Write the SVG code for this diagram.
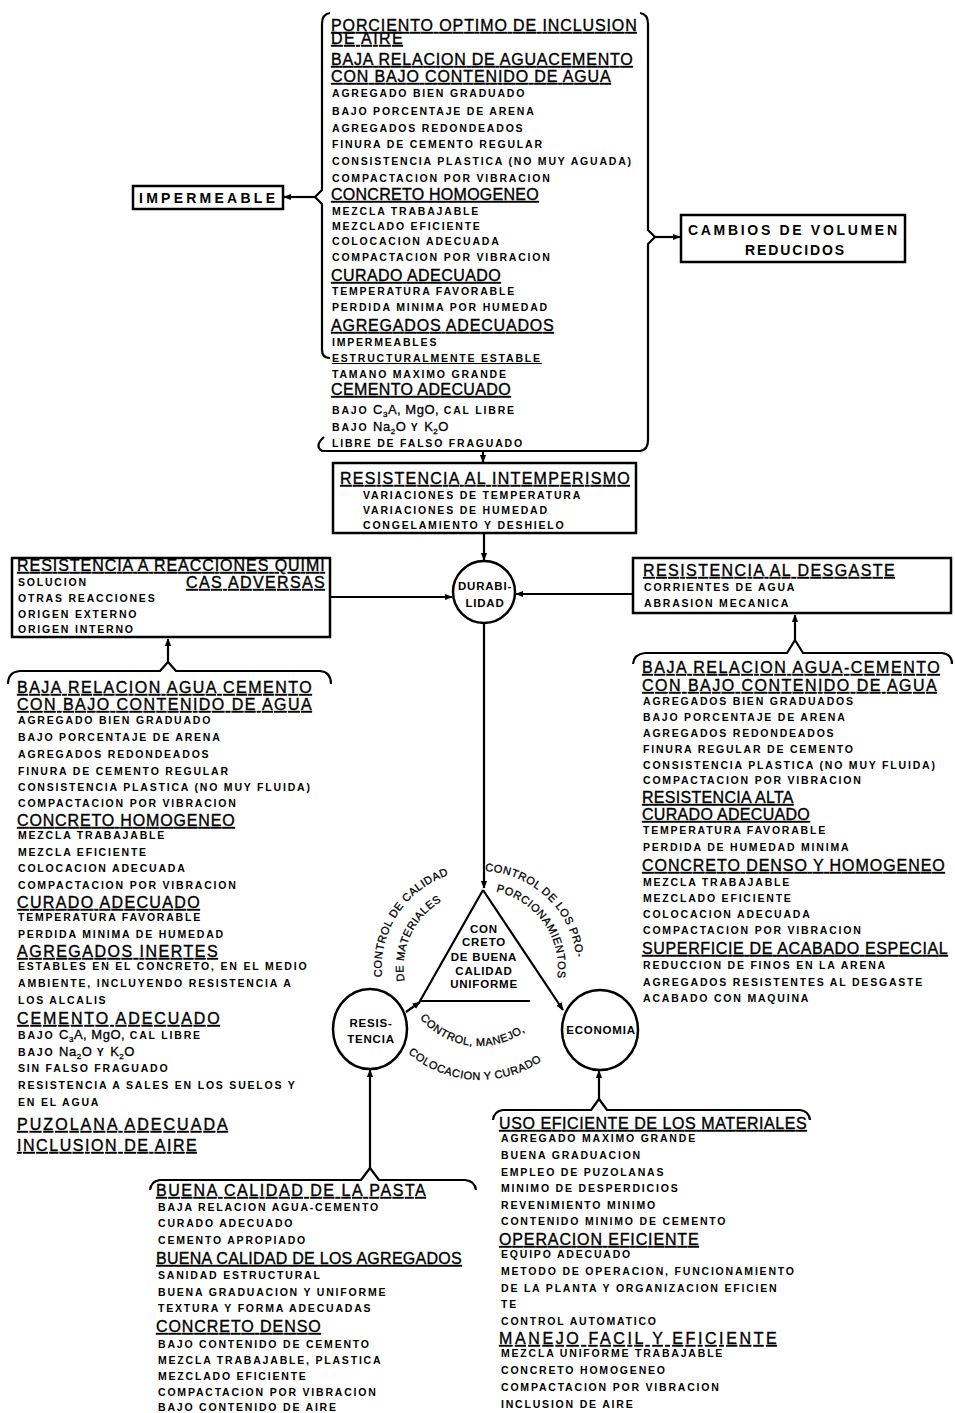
<svg xmlns="http://www.w3.org/2000/svg" width="955" height="1413" viewBox="0 0 955 1413">
<style>
text{fill:#000;font-family:"Liberation Sans",Arial,sans-serif}
.s{font-size:10.5px;font-weight:bold;letter-spacing:1.8px}
.l{font-size:16px;letter-spacing:0.3px;text-decoration:underline;stroke:#000;stroke-width:0.35}
.m{font-size:13px;font-weight:normal;letter-spacing:0.5px;stroke:#000;stroke-width:0.3}
.b{font-size:14px;font-weight:bold;letter-spacing:1px}
.c{font-size:11.5px;font-weight:bold;letter-spacing:0.8px;text-anchor:middle}
.a{font-size:11px;letter-spacing:0.5px;stroke:#000;stroke-width:0.3}
.box{fill:#fff;stroke:#000;stroke-width:2.5}
.ln{fill:none;stroke:#000;stroke-width:2.2;stroke-linejoin:round}
</style>
<defs>
<marker id="ah" viewBox="0 0 10 10" refX="9" refY="5" markerWidth="8" markerHeight="8" markerUnits="userSpaceOnUse" orient="auto"><path d="M0,1 L10,5 L0,9 z"/></marker>
<path id="pL1" d="M 382 977 A 98 98 0 0 1 476.6 870.1"/>
<path id="pL2" d="M 404.7 981 A 77 77 0 0 1 466 892"/>
<path id="pR1" d="M 485 871 A 97 97 0 0 1 577 970"/>
<path id="pR2" d="M 496.2 891.7 A 78 78 0 0 1 553.3 994.7"/>
<path id="pB1" d="M 420 1018 A 77 77 0 0 0 547 1006"/>
<path id="pB2" d="M 408 1053 A 110 110 0 0 0 552 1053"/>
</defs>

<g id="connectors">
<line class="ln" x1="316" y1="197" x2="284" y2="197" marker-end="url(#ah)"/>
<line class="ln" x1="655" y1="237" x2="680" y2="237" marker-end="url(#ah)"/>
<line class="ln" x1="483" y1="452" x2="483" y2="462" marker-end="url(#ah)"/>
<line class="ln" x1="484" y1="533" x2="484" y2="560" marker-end="url(#ah)"/>
<line class="ln" x1="330" y1="597" x2="452" y2="597" marker-end="url(#ah)"/>
<line class="ln" x1="633" y1="594" x2="516" y2="594" marker-end="url(#ah)"/>
<line class="ln" x1="168" y1="662" x2="168" y2="639" marker-end="url(#ah)"/>
<line class="ln" x1="795" y1="640" x2="795" y2="615" marker-end="url(#ah)"/>
<line class="ln" x1="484" y1="623" x2="484" y2="888" marker-end="url(#ah)"/>
<line class="ln" x1="483" y1="890" x2="563" y2="1010" marker-end="url(#ah)"/>
<line class="ln" x1="406" y1="1012" x2="420" y2="1002" marker-end="url(#ah)"/>
<line class="ln" x1="370" y1="1168" x2="370" y2="1070" marker-end="url(#ah)"/>
<line class="ln" x1="599" y1="1099" x2="599" y2="1071" marker-end="url(#ah)"/>
</g>

<g id="bloque-superior">
<path class="ln" d="M 330 13 Q 322 14 322 24 L 322 190 L 315 197 L 322 204 L 322 350 Q 322 358 330 358"/>
<path class="ln" d="M 324 437 Q 314 446 322 451 L 640 451 Q 648 450 648 440 L 648 244 L 655 237 L 648 230 L 648 24 Q 648 14 640 13"/>
<text class="l" x="331" y="31" textLength="306">PORCIENTO OPTIMO DE INCLUSION</text>
<text class="l" x="331" y="44" textLength="72">DE AIRE</text>
<text class="l" x="331" y="65" textLength="302">BAJA RELACION DE AGUACEMENTO</text>
<text class="l" x="331" y="82" textLength="280">CON BAJO CONTENIDO DE AGUA</text>
<text class="s" x="332" y="97">AGREGADO BIEN GRADUADO</text>
<text class="s" x="332" y="115">BAJO PORCENTAJE DE ARENA</text>
<text class="s" x="332" y="132">AGREGADOS REDONDEADOS</text>
<text class="s" x="332" y="148">FINURA DE CEMENTO REGULAR</text>
<text class="s" x="332" y="165">CONSISTENCIA PLASTICA (NO MUY AGUADA)</text>
<text class="s" x="332" y="182">COMPACTACION POR VIBRACION</text>
<text class="l" x="331" y="200" textLength="208">CONCRETO HOMOGENEO</text>
<text class="s" x="332" y="215">MEZCLA TRABAJABLE</text>
<text class="s" x="332" y="230">MEZCLADO EFICIENTE</text>
<text class="s" x="332" y="245">COLOCACION ADECUADA</text>
<text class="s" x="332" y="261">COMPACTACION POR VIBRACION</text>
<text class="l" x="331" y="281" textLength="170">CURADO ADECUADO</text>
<text class="s" x="332" y="295">TEMPERATURA FAVORABLE</text>
<text class="s" x="332" y="311">PERDIDA MINIMA POR HUMEDAD</text>
<text class="l" x="331" y="331" textLength="223">AGREGADOS ADECUADOS</text>
<text class="s" x="332" y="346">IMPERMEABLES</text>
<text class="s" x="332" y="362" text-decoration="underline">ESTRUCTURALMENTE ESTABLE</text>
<text class="s" x="332" y="378">TAMANO MAXIMO GRANDE</text>
<text class="l" x="331" y="395" textLength="180">CEMENTO ADECUADO</text>
<text class="s" x="332" y="414">BAJO <tspan class="m">C<tspan font-size="8" dy="3">3</tspan><tspan dy="-3">A, MgO,</tspan></tspan> CAL LIBRE</text>
<text class="s" x="332" y="431">BAJO <tspan class="m">Na<tspan font-size="8" dy="3">2</tspan><tspan dy="-3">O</tspan></tspan> Y <tspan class="m">K<tspan font-size="8" dy="3">2</tspan><tspan dy="-3">O</tspan></tspan></text>
<text class="s" x="332" y="447">LIBRE DE FALSO FRAGUADO</text>
</g>

<g id="impermeable">
<rect class="box" x="133" y="186" width="150" height="23"/>
<text class="b" x="139" y="203" textLength="137">IMPERMEABLE</text>
</g>

<g id="cambios-volumen">
<rect class="box" x="681" y="215" width="224" height="47"/>
<text class="b" x="688" y="235" textLength="210">CAMBIOS DE VOLUMEN</text>
<text class="b" x="745" y="255" textLength="100">REDUCIDOS</text>
</g>

<g id="intemperismo">
<rect class="box" x="333" y="463" width="303" height="70"/>
<text class="l" x="340" y="484" textLength="290">RESISTENCIA AL INTEMPERISMO</text>
<text class="s" x="363" y="499">VARIACIONES DE TEMPERATURA</text>
<text class="s" x="363" y="514">VARIACIONES DE HUMEDAD</text>
<text class="s" x="363" y="529">CONGELAMIENTO Y DESHIELO</text>
</g>

<g id="durabilidad">
<circle cx="484" cy="592" r="31" class="box"/>
<text class="c" x="485" y="590">DURABI-</text>
<text class="c" x="485" y="607">LIDAD</text>
</g>

<g id="reacciones-quimicas">
<rect class="box" x="12" y="558" width="318" height="79"/>
<text class="l" x="17" y="571" textLength="308">RESISTENCIA A REACCIONES QUIMI</text>
<text class="l" x="186" y="588" textLength="139">CAS ADVERSAS</text>
<text class="s" x="18" y="586">SOLUCION</text>
<text class="s" x="18" y="602">OTRAS REACCIONES</text>
<text class="s" x="18" y="618">ORIGEN EXTERNO</text>
<text class="s" x="18" y="633">ORIGEN INTERNO</text>
</g>

<g id="desgaste">
<rect class="box" x="633" y="558" width="318" height="55"/>
<text class="l" x="643" y="576" textLength="252">RESISTENCIA AL DESGASTE</text>
<text class="s" x="644" y="591">CORRIENTES DE AGUA</text>
<text class="s" x="644" y="607">ABRASION MECANICA</text>
</g>

<g id="lista-izquierda">
<path class="ln" d="M 8 684 Q 8 672 20 671 L 160 671 L 168 662 L 176 671 L 320 671 Q 331 672 331 684"/>
<text class="l" x="17" y="693" textLength="295">BAJA RELACION AGUA CEMENTO</text>
<text class="l" x="17" y="710" textLength="295">CON BAJO CONTENIDO DE AGUA</text>
<text class="s" x="18" y="724">AGREGADO BIEN GRADUADO</text>
<text class="s" x="18" y="741">BAJO PORCENTAJE DE ARENA</text>
<text class="s" x="18" y="758">AGREGADOS REDONDEADOS</text>
<text class="s" x="18" y="775">FINURA DE CEMENTO REGULAR</text>
<text class="s" x="18" y="791">CONSISTENCIA PLASTICA (NO MUY FLUIDA)</text>
<text class="s" x="18" y="807">COMPACTACION POR VIBRACION</text>
<text class="l" x="17" y="826" textLength="218">CONCRETO HOMOGENEO</text>
<text class="s" x="18" y="839">MEZCLA TRABAJABLE</text>
<text class="s" x="18" y="856">MEZCLA EFICIENTE</text>
<text class="s" x="18" y="872">COLOCACION ADECUADA</text>
<text class="s" x="18" y="889">COMPACTACION POR VIBRACION</text>
<text class="l" x="17" y="908" textLength="183">CURADO ADECUADO</text>
<text class="s" x="18" y="921">TEMPERATURA FAVORABLE</text>
<text class="s" x="18" y="938">PERDIDA MINIMA DE HUMEDAD</text>
<text class="l" x="17" y="957" textLength="201">AGREGADOS INERTES</text>
<text class="s" x="18" y="970">ESTABLES EN EL CONCRETO, EN EL MEDIO</text>
<text class="s" x="18" y="987">AMBIENTE, INCLUYENDO RESISTENCIA A</text>
<text class="s" x="18" y="1004">LOS ALCALIS</text>
<text class="l" x="17" y="1024" textLength="203">CEMENTO ADECUADO</text>
<text class="s" x="18" y="1039">BAJO <tspan class="m">C<tspan font-size="8" dy="3">3</tspan><tspan dy="-3">A, MgO,</tspan></tspan> CAL LIBRE</text>
<text class="s" x="18" y="1056">BAJO <tspan class="m">Na<tspan font-size="8" dy="3">2</tspan><tspan dy="-3">O</tspan></tspan> Y <tspan class="m">K<tspan font-size="8" dy="3">2</tspan><tspan dy="-3">O</tspan></tspan></text>
<text class="s" x="18" y="1072">SIN FALSO FRAGUADO</text>
<text class="s" x="18" y="1089">RESISTENCIA A SALES EN LOS SUELOS Y</text>
<text class="s" x="18" y="1106">EN EL AGUA</text>
<text class="l" x="17" y="1130" textLength="211">PUZOLANA ADECUADA</text>
<text class="l" x="17" y="1151" textLength="180">INCLUSION DE AIRE</text>
</g>

<g id="lista-derecha">
<path class="ln" d="M 633 664 Q 634 654 645 653 L 787 653 L 795 640 L 803 653 L 942 653 Q 952 654 952 664"/>
<text class="l" x="642" y="673" textLength="298">BAJA RELACION AGUA-CEMENTO</text>
<text class="l" x="642" y="691" textLength="295">CON BAJO CONTENIDO DE AGUA</text>
<text class="s" x="643" y="705">AGREGADOS BIEN GRADUADOS</text>
<text class="s" x="643" y="721">BAJO PORCENTAJE DE ARENA</text>
<text class="s" x="643" y="737">AGREGADOS REDONDEADOS</text>
<text class="s" x="643" y="753">FINURA REGULAR DE CEMENTO</text>
<text class="s" x="643" y="769">CONSISTENCIA PLASTICA (NO MUY FLUIDA)</text>
<text class="s" x="643" y="784">COMPACTACION POR VIBRACION</text>
<text class="l" x="642" y="803" font-size="14" text-decoration="none">RESISTENCIA ALTA</text>
<text class="l" x="642" y="820" font-size="14">CURADO ADECUADO</text>
<text class="s" x="643" y="834">TEMPERATURA FAVORABLE</text>
<text class="s" x="643" y="851">PERDIDA DE HUMEDAD MINIMA</text>
<text class="l" x="642" y="871" textLength="303">CONCRETO DENSO Y HOMOGENEO</text>
<text class="s" x="643" y="886">MEZCLA TRABAJABLE</text>
<text class="s" x="643" y="902">MEZCLADO EFICIENTE</text>
<text class="s" x="643" y="918">COLOCACION ADECUADA</text>
<text class="s" x="643" y="934">COMPACTACION POR VIBRACION</text>
<text class="l" x="642" y="954" textLength="306">SUPERFICIE DE ACABADO ESPECIAL</text>
<text class="s" x="643" y="969">REDUCCION DE FINOS EN LA ARENA</text>
<text class="s" x="643" y="986">AGREGADOS RESISTENTES AL DESGASTE</text>
<text class="s" x="643" y="1002">ACABADO CON MAQUINA</text>
</g>

<g id="concreto-buena-calidad">
<polyline class="ln" points="530,1001 420,1001 483,890"/>
<text class="c" x="484" y="933">CON</text>
<text class="c" x="484" y="946">CRETO</text>
<text class="c" x="484" y="961">DE BUENA</text>
<text class="c" x="484" y="975">CALIDAD</text>
<text class="c" x="484" y="988">UNIFORME</text>
</g>

<g id="controles">
<text class="a"><textPath href="#pL1">CONTROL DE CALIDAD</textPath></text>
<text class="a"><textPath href="#pL2">DE MATERIALES</textPath></text>
<text class="a"><textPath href="#pR1">CONTROL DE LOS PRO-</textPath></text>
<text class="a"><textPath href="#pR2">PORCIONAMIENTOS</textPath></text>
<text class="a"><textPath href="#pB1">CONTROL, MANEJO,</textPath></text>
<text class="a"><textPath href="#pB2">COLOCACION Y CURADO</textPath></text>
</g>

<g id="resistencia">
<ellipse class="box" cx="370" cy="1029" rx="37" ry="40"/>
<text class="c" x="371" y="1027">RESIS-</text>
<text class="c" x="371" y="1043">TENCIA</text>
</g>

<g id="economia">
<ellipse class="box" cx="600" cy="1030" rx="38" ry="40"/>
<text class="c" x="601" y="1034">ECONOMIA</text>
</g>

<g id="lista-resistencia">
<path class="ln" d="M 150 1190 Q 151 1181 160 1180 L 361 1180 L 370 1168 L 379 1180 L 465 1180 Q 475 1181 476 1190"/>
<text class="l" x="156" y="1196" textLength="270">BUENA CALIDAD DE LA PASTA</text>
<text class="s" x="158" y="1211">BAJA RELACION AGUA-CEMENTO</text>
<text class="s" x="158" y="1227">CURADO ADECUADO</text>
<text class="s" x="158" y="1244">CEMENTO APROPIADO</text>
<text class="l" x="156" y="1264" textLength="306">BUENA CALIDAD DE LOS AGREGADOS</text>
<text class="s" x="158" y="1279">SANIDAD ESTRUCTURAL</text>
<text class="s" x="158" y="1296">BUENA GRADUACION Y UNIFORME</text>
<text class="s" x="158" y="1312">TEXTURA Y FORMA ADECUADAS</text>
<text class="l" x="156" y="1332" textLength="165">CONCRETO DENSO</text>
<text class="s" x="158" y="1348">BAJO CONTENIDO DE CEMENTO</text>
<text class="s" x="158" y="1364">MEZCLA TRABAJABLE, PLASTICA</text>
<text class="s" x="158" y="1380">MEZCLADO EFICIENTE</text>
<text class="s" x="158" y="1396">COMPACTACION POR VIBRACION</text>
<text class="s" x="158" y="1411">BAJO CONTENIDO DE AIRE</text>
</g>

<g id="lista-economia">
<path class="ln" d="M 493 1120 Q 494 1111 503 1110 L 591 1110 L 599 1099 L 607 1110 L 800 1110 Q 809 1111 810 1120"/>
<text class="l" x="499" y="1129" textLength="308">USO EFICIENTE DE LOS MATERIALES</text>
<text class="s" x="501" y="1142">AGREGADO MAXIMO GRANDE</text>
<text class="s" x="501" y="1159">BUENA GRADUACION</text>
<text class="s" x="501" y="1176">EMPLEO DE PUZOLANAS</text>
<text class="s" x="501" y="1192">MINIMO DE DESPERDICIOS</text>
<text class="s" x="501" y="1209">REVENIMIENTO MINIMO</text>
<text class="s" x="501" y="1225">CONTENIDO MINIMO DE CEMENTO</text>
<text class="l" x="499" y="1245" textLength="200">OPERACION EFICIENTE</text>
<text class="s" x="501" y="1258">EQUIPO ADECUADO</text>
<text class="s" x="501" y="1275">METODO DE OPERACION, FUNCIONAMIENTO</text>
<text class="s" x="501" y="1292">DE LA PLANTA Y ORGANIZACION EFICIEN</text>
<text class="s" x="501" y="1308">TE</text>
<text class="s" x="501" y="1325">CONTROL AUTOMATICO</text>
<text class="l" x="499" y="1344" textLength="278">MANEJO FACIL Y EFICIENTE</text>
<text class="s" x="501" y="1357">MEZCLA UNIFORME TRABAJABLE</text>
<text class="s" x="501" y="1374">CONCRETO HOMOGENEO</text>
<text class="s" x="501" y="1391">COMPACTACION POR VIBRACION</text>
<text class="s" x="501" y="1408">INCLUSION DE AIRE</text>
</g>
</svg>
